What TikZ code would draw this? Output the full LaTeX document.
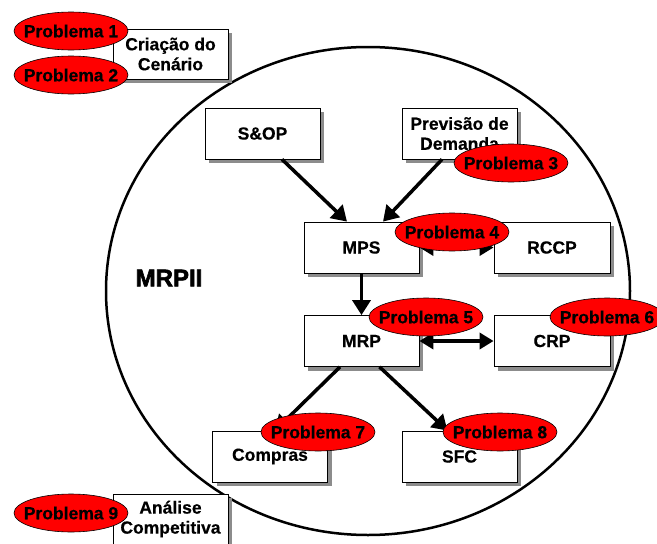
\documentclass[tikz,border=0pt]{standalone}
\usepackage{fontspec}
\setmainfont{Liberation Sans}[BoldFeatures={FakeBold=0.5}]
\newfontfamily\heavyfont{Liberation Sans}[BoldFeatures={FakeBold=2.5}]
\usetikzlibrary{shadows,arrows.meta,shapes.geometric}

\begin{document}
\begin{tikzpicture}[x=1pt,y=-1pt,
  font=\fontsize{17.5}{20}\selectfont\bfseries,
  stage/.style={draw=black,line width=0.8pt,fill=white,minimum width=115pt,
    minimum height=51pt,inner sep=0pt,align=center,
    drop shadow={shadow xshift=4pt,shadow yshift=-4pt,opacity=1,fill=black!45}},
  problem/.style={ellipse,draw=black,line width=0.6pt,fill=red,
    minimum width=114pt,minimum height=38pt,inner xsep=-9pt,inner ysep=0pt},
  flow/.style={line width=3.5pt,-{Triangle[length=15pt,width=18pt]}},
  twoway/.style={line width=3.5pt,
    {Triangle[length=14pt,width=16pt]}-{Triangle[length=14pt,width=16pt]}}]
\useasboundingbox (0,0) rectangle (657,544);

% MRPII boundary
\draw[line width=2.5pt] (368,291) ellipse [x radius=262pt, y radius=244pt];
\node (mrpii) at (169,278) {\fontsize{24}{24}\selectfont\heavyfont\bfseries MRPII};

% planning stages
\node[stage,minimum height=50pt] (crea) at (170.5,54) {Criação do\\Cenário};
\node[stage,minimum height=50pt] (anal) at (170.5,519) {Análise\\Competitiva};
\node[stage] (sop) at (262.5,133.5) {S\&OP};
\node[stage] (prev) at (459.5,133.5) {Previsão de\\Demanda};
\node[stage] (mps) at (361.5,247.5) {MPS};
\node[stage,minimum width=116pt] (rccp) at (552,247.5) {RCCP};
\node[stage] (mrp) at (361.5,341) {MRP};
\node[stage,minimum width=116pt] (crp) at (552,341) {CRP};
\node[stage] (compras) at (270,456.5) {Compras};
\node[stage] (sfc) at (459.5,456.5) {SFC};

% flows between stages
\draw[flow] ([xshift=19.5pt]sop.south) -- ([xshift=-14.5pt]mps.north);
\draw[flow] ([xshift=-17.5pt]prev.south) -- ([xshift=21.5pt]mps.north);
\draw[flow] (mps.south) -- (mrp.north);
\draw[twoway] (mps.east) -- (rccp.west);
\draw[twoway] (mrp.east) -- (crp.west);
\draw[flow] ([xshift=-21.5pt]mrp.south) -- ([xshift=5pt]compras.north);
\draw[flow] ([xshift=18pt]mrp.south) -- ([xshift=-12pt]sfc.north);

% problem markers
\node[problem] (p1) at (71,31) {Problema 1};
\node[problem] (p2) at (71,75) {Problema 2};
\node[problem] (p3) at (511,163) {Problema 3};
\node[problem] (p4) at (452,232) {Problema 4};
\node[problem] (p5) at (426,317) {Problema 5};
\node[problem] (p6) at (607,317) {Problema 6};
\node[problem] (p7) at (318,432) {Problema 7};
\node[problem] (p8) at (500,432) {Problema 8};
\node[problem] (p9) at (71,513) {Problema 9};
\end{tikzpicture}
\end{document}
